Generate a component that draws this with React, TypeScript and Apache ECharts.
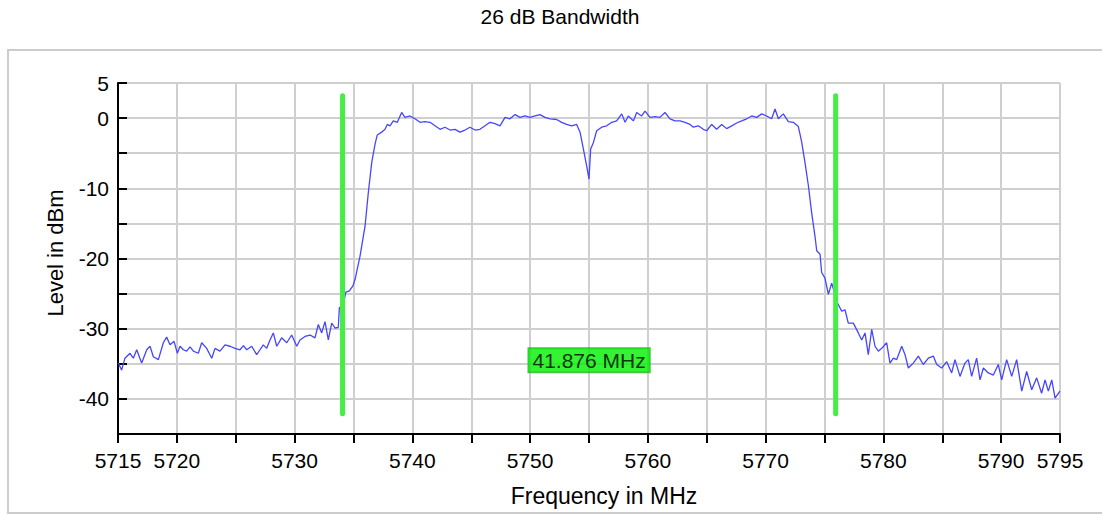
import React, { useEffect, useRef } from "react";
import * as echarts from "echarts";

const chartTitle = "26 dB Bandwidth";
const xAxisTitle = "Frequency in MHz";
const yAxisTitle = "Level in dBm";

const freqMHz = [
  5715.03, 5715.31, 5715.59, 5716.02, 5716.3, 5716.59, 5717.01, 5717.44, 5717.72, 5718.0,
  5718.43, 5718.85, 5719.13, 5719.42, 5719.76, 5720.04, 5720.27, 5720.55, 5720.83, 5721.12,
  5721.4, 5721.82, 5722.11, 5722.53, 5722.96, 5723.24, 5723.66, 5724.09, 5724.51, 5724.94,
  5725.36, 5725.65, 5725.93, 5726.35, 5726.78, 5727.06, 5727.34, 5727.63, 5727.91, 5728.19,
  5728.48, 5728.9, 5729.33, 5729.75, 5730.18, 5730.46, 5730.88, 5731.31, 5731.73, 5732.01,
  5732.3, 5732.58, 5732.86, 5733.15, 5733.43, 5733.71, 5733.8, 5734.1, 5734.35, 5734.65,
  5734.95, 5735.13, 5735.55, 5735.98, 5736.26, 5736.55, 5736.83, 5737.02, 5737.39, 5737.68,
  5737.87, 5738.1, 5738.38, 5738.72, 5739.09, 5739.37, 5739.8, 5740.22, 5740.65, 5741.07,
  5741.5, 5741.92, 5742.35, 5742.77, 5743.2, 5743.62, 5744.04, 5744.47, 5744.89, 5745.32,
  5745.74, 5746.17, 5746.59, 5747.02, 5747.44, 5747.87, 5748.29, 5748.72, 5749.14, 5749.56,
  5749.99, 5750.41, 5750.84, 5751.26, 5751.69, 5752.25, 5752.68, 5753.1, 5753.53, 5753.95,
  5754.24, 5754.52, 5754.8, 5755.0, 5755.14, 5755.37, 5755.65, 5756.08, 5756.5, 5756.93,
  5757.35, 5757.78, 5758.06, 5758.34, 5758.77, 5759.05, 5759.47, 5759.76, 5760.18, 5760.61,
  5761.03, 5761.45, 5761.88, 5762.3, 5762.73, 5763.15, 5763.58, 5763.86, 5764.28, 5764.71,
  5764.99, 5765.42, 5765.84, 5766.27, 5766.69, 5767.12, 5767.54, 5767.97, 5768.39, 5768.82,
  5769.24, 5769.67, 5770.09, 5770.51, 5770.8, 5771.08, 5771.5, 5771.93, 5772.35, 5772.78,
  5773.06, 5773.34, 5773.63, 5773.91, 5774.19, 5774.34, 5774.62, 5774.76, 5775.04, 5775.33,
  5775.61, 5776.09, 5776.46, 5776.74, 5777.02, 5777.45, 5777.87, 5778.16, 5778.44, 5778.72,
  5779.01, 5779.29, 5779.57, 5779.86, 5780.28, 5780.56, 5780.85, 5781.13, 5781.56, 5781.84,
  5782.12, 5782.54, 5782.97, 5783.39, 5783.82, 5784.24, 5784.53, 5784.95, 5785.38, 5785.8,
  5786.08, 5786.51, 5786.93, 5787.21, 5787.5, 5787.92, 5788.21, 5788.49, 5788.91, 5789.34,
  5789.76, 5790.05, 5790.47, 5790.9, 5791.32, 5791.75, 5792.17, 5792.6, 5793.02, 5793.44,
  5793.73, 5794.01, 5794.3, 5794.58, 5795.0,
];

const levelDbm = [
  -34.9, -35.9, -34.2, -33.5, -34.2, -33.0, -34.9, -33.0, -32.5, -34.0,
  -34.4, -32.0, -31.2, -32.3, -31.8, -33.5, -32.5, -33.0, -33.2, -32.6,
  -33.2, -33.5, -32.0, -32.8, -34.2, -32.8, -33.2, -32.3, -32.5, -32.8,
  -33.0, -32.4, -33.0, -32.5, -33.7, -33.0, -32.3, -32.8, -31.6, -30.6,
  -32.5, -31.3, -32.0, -30.9, -32.5, -31.6, -31.1, -30.9, -31.3, -29.4,
  -30.6, -29.0, -31.6, -29.2, -29.9, -29.8, -27.0, -26.8, -24.8, -24.6,
  -23.9, -23.0, -19.7, -15.4, -10.6, -6.3, -3.7, -2.4, -2.0, -1.6,
  -0.9, -1.1, -0.4, -0.6, 0.8, 0.1, 0.3, -0.1, -0.6, -0.5,
  -0.6, -1.1, -1.6, -1.3, -1.7, -1.6, -2.0, -1.7, -1.3, -1.7,
  -1.6, -1.1, -0.6, -0.8, -1.1, 0.1, -0.1, 0.5, 0.1, 0.3,
  0.1, 0.3, 0.5, 0.1, -0.1, -0.2, -0.6, -0.9, -1.1, -0.9,
  -2.0, -4.4, -6.8, -8.7, -4.4, -3.5, -1.8, -1.3, -1.1, -0.6,
  -0.4, 0.6, -0.6, 0.3, -0.4, 0.8, 0.3, 1.0, 0.1, 0.2,
  0.1, 0.8, -0.1, -0.4, -0.4, -0.6, -0.9, -1.3, -1.1, -1.6,
  -1.8, -0.9, -1.6, -0.9, -1.5, -1.1, -0.7, -0.4, -0.1, 0.3,
  0.1, 0.6, 0.3, -0.1, 1.3, -0.1, 0.6, -0.5, -0.6, -1.2,
  -3.4, -6.3, -9.6, -13.5, -16.8, -18.9, -19.4, -22.0, -22.8, -25.1,
  -23.5, -26.3, -27.5, -27.3, -29.2, -29.2, -30.6, -31.6, -30.6, -33.7,
  -30.1, -32.5, -33.2, -32.8, -32.0, -34.9, -34.2, -34.4, -32.5, -33.7,
  -35.6, -34.9, -33.9, -35.1, -34.2, -33.9, -35.1, -35.6, -34.7, -36.3,
  -34.4, -36.8, -34.9, -34.4, -36.8, -34.2, -37.3, -35.6, -36.3, -36.6,
  -35.1, -37.3, -34.4, -36.8, -34.4, -38.9, -36.1, -38.7, -37.0, -39.2,
  -37.3, -38.9, -37.3, -39.9, -38.9,
];

const markerFreqs = [5734.07, 5775.946];
const markerLevelRange = [3.2, -42.1];
const bandwidthLabelLevel = -34.5;

const xLabelValues = [5715, 5720, 5730, 5740, 5750, 5760, 5770, 5780, 5790, 5795];
const yLabelValues = [5, 0, -10, -20, -30, -40];

const FONT = '"Liberation Sans", Arial, sans-serif';

export default function App() {
  const ref = useRef<HTMLDivElement>(null);

  useEffect(() => {
    if (!ref.current) return;
    const chart = echarts.init(ref.current, null, { renderer: "svg" });
    const trace = freqMHz.map((f, i) => [f, levelDbm[i]]);
    const [left, right] = markerFreqs;
    const bw = (right - left).toFixed(3) + " MHz";
    const mid = (left + right) / 2;

    const markerSeries = markerFreqs.map((f) => ({
      type: "line",
      data: markerLevelRange.map((v) => [f, v]),
      showSymbol: false,
      symbol: "none",
      lineStyle: { color: "#44ee44", width: 5, cap: "round" },
      z: 3,
      silent: true,
    }));

    chart.setOption({
      animation: false,
      grid: { left: 118, right: 42, top: 83, bottom: 81, containLabel: false },
      xAxis: {
        type: "value",
        min: 5715,
        max: 5795,
        interval: 5,
        axisLine: { onZero: false, lineStyle: { color: "#000", width: 2 } },
        axisTick: { length: 9, lineStyle: { color: "#000", width: 2 } },
        axisLabel: {
          showMinLabel: true,
          showMaxLabel: true,
          margin: 16,
          color: "#000",
          fontSize: 21,
          fontFamily: FONT,
          formatter: (v: number) => (xLabelValues.includes(v) ? String(v) : ""),
        },
        splitLine: { show: true, lineStyle: { color: "#cfcfcf", width: 2 } },
      },
      yAxis: {
        type: "value",
        min: -45,
        max: 5,
        interval: 5,
        axisLine: { onZero: false, lineStyle: { color: "#000", width: 2 } },
        axisTick: { inside: true, length: 9, lineStyle: { color: "#000", width: 2 } },
        axisLabel: {
          showMinLabel: true,
          showMaxLabel: true,
          margin: 9,
          color: "#000",
          fontSize: 21,
          fontFamily: FONT,
          formatter: (v: number) => (yLabelValues.includes(v) ? String(v) : ""),
        },
        splitLine: { show: true, lineStyle: { color: "#cfcfcf", width: 2 } },
      },
      graphic: [
        {
          type: "rect",
          shape: { x: 8, y: 50, width: 1100, height: 463 },
          style: { fill: "none", stroke: "#cccccc", lineWidth: 2 },
          silent: true,
          z: -10,
        },
        {
          type: "text",
          x: 560,
          y: 16,
          style: {
            text: chartTitle,
            fill: "#000",
            font: `21px ${FONT}`,
            align: "center",
            verticalAlign: "middle",
            textAlign: "center",
            textVerticalAlign: "middle",
          },
        },
        {
          type: "text",
          x: 604,
          y: 496,
          style: {
            text: xAxisTitle,
            fill: "#000",
            font: `23px ${FONT}`,
            align: "center",
            verticalAlign: "middle",
            textAlign: "center",
            textVerticalAlign: "middle",
          },
        },
        {
          type: "text",
          x: 55,
          y: 253,
          rotation: Math.PI / 2,
          style: {
            text: yAxisTitle,
            fill: "#000",
            font: `22px ${FONT}`,
            align: "center",
            verticalAlign: "middle",
            textAlign: "center",
            textVerticalAlign: "middle",
          },
        },
      ],
      series: [
        {
          type: "line",
          data: trace,
          showSymbol: false,
          symbol: "none",
          lineStyle: { color: "#4646ff", width: 1.3 },
          z: 2,
          silent: true,
        },
        ...markerSeries,
        {
          type: "scatter",
          data: [[mid, bandwidthLabelLevel]],
          symbol: "rect",
          symbolSize: 1,
          itemStyle: { color: "rgba(0,0,0,0)" },
          z: 5,
          silent: true,
          label: {
            show: true,
            position: "inside",
            formatter: bw,
            color: "#000",
            fontSize: 21,
            fontFamily: FONT,
            backgroundColor: "#00f000",
            borderColor: "#22b022",
            borderWidth: 1,
            padding: [2, 4, 1, 4],
          },
        },
      ],
    });
    return () => chart.dispose();
  }, []);

  return (
    <div
      ref={ref}
      style={{ position: "absolute", left: 0, top: 0, width: 1102, height: 515, background: "#fff" }}
    />
  );
}
